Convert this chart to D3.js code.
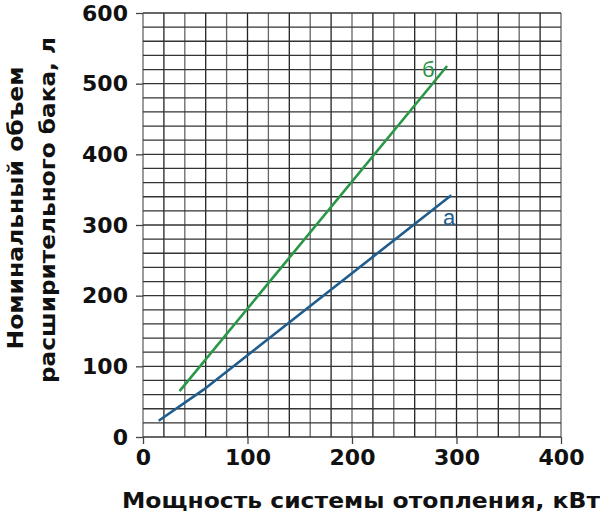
<!DOCTYPE html>
<html><head><meta charset="utf-8">
<script src="https://cdn.jsdelivr.net/npm/d3@7"></script>
<style>body{margin:0;background:#fff}svg{display:block}text{font-family:"DejaVu Sans",sans-serif;font-weight:bold}</style>
</head><body>
<svg id="c" width="600" height="517"></svg>
<script>
const xTicks = [0, 100, 200, 300, 400];
const yTicks = [0, 100, 200, 300, 400, 500, 600];
const seriesA_x = [15, 58, 295];
const seriesA_y = [23, 67, 342];
const seriesB_x = [35, 291];
const seriesB_y = [65, 525];
const labelA = "а", labelB = "б";
const xTitle = "Мощность системы отопления, кВт";
const yTitle1 = "Номинальный объем";
const yTitle2 = "расширительного бака, л";

const svg = d3.select("#c");
const L = 143, R = 561, T = 13, B = 437;
const x = d3.scaleLinear().domain([0, 400]).range([L, R]);
const y = d3.scaleLinear().domain([0, 600]).range([B, T]);
const FF = '"DejaVu Sans",sans-serif';

const g = svg.append("g");
// grid
const minor = d3.range(0, 401, 20);
g.selectAll(".vg").data(minor).enter().append("line")
  .attr("x1", d => x(d)).attr("x2", d => x(d)).attr("y1", T).attr("y2", B)
  .attr("stroke", (d, i) => (i % 2 ? "#222" : "#666")).attr("stroke-width", 1.3);
const minorY = d3.range(0, 601, 20);
g.selectAll(".hg").data(minorY).enter().append("line")
  .attr("x1", L).attr("x2", R).attr("y1", d => y(d)).attr("y2", d => y(d))
  .attr("stroke", "#333").attr("stroke-width", 1.3);

// axes (ticks)
const xAxis = d3.axisBottom(x).tickValues(xTicks).tickSize(7).tickPadding(5);
const xa = svg.append("g").attr("transform", `translate(0,${B})`).call(xAxis);
xa.select(".domain").remove();
xa.selectAll("line").attr("stroke", "#444").attr("stroke-width", 1.3);
xa.selectAll("text").attr("font-size", 22).attr("fill", "#111")
  .style("font-family", FF).style("font-weight", "bold");

const yAxis = d3.axisLeft(y).tickValues(yTicks).tickSize(7).tickPadding(8);
const ya = svg.append("g").attr("transform", `translate(${L},0)`).call(yAxis);
ya.select(".domain").remove();
ya.selectAll("line").attr("stroke", "#444").attr("stroke-width", 1.3);
ya.selectAll("text").attr("font-size", 22).attr("fill", "#111")
  .style("font-family", FF).style("font-weight", "bold");

// lines
const line = d3.line().x(d => x(d[0])).y(d => y(d[1]));
svg.append("path").datum(seriesB_x.map((v, i) => [v, seriesB_y[i]]))
  .attr("d", line).attr("fill", "none").attr("stroke", "#2a9747").attr("stroke-width", 2.6);
svg.append("path").datum(seriesA_x.map((v, i) => [v, seriesA_y[i]]))
  .attr("d", line).attr("fill", "none").attr("stroke", "#1f5d8e").attr("stroke-width", 2.6);

svg.append("text").attr("x", x(273)).attr("y", y(510)).attr("text-anchor", "middle")
  .attr("font-size", 22).style("font-family", '"Liberation Sans",Arial,sans-serif').style("font-weight", "normal")
  .attr("fill", "#2a9747").text(labelB);
svg.append("text").attr("x", x(293)).attr("y", y(300)).attr("text-anchor", "middle")
  .attr("font-size", 22).style("font-family", '"Liberation Sans",Arial,sans-serif').style("font-weight", "normal")
  .attr("fill", "#1f5d8e").text(labelA);

// titles
svg.append("text").attr("x", 361).attr("y", 508).attr("text-anchor", "middle")
  .attr("font-size", 22).attr("fill", "#111")
  .attr("textLength", 478).attr("lengthAdjust", "spacingAndGlyphs").text(xTitle);
svg.append("text").attr("transform", "translate(23,208) rotate(-90)").attr("text-anchor", "middle")
  .attr("font-size", 22).attr("fill", "#111")
  .attr("textLength", 283).attr("lengthAdjust", "spacingAndGlyphs").text(yTitle1);
svg.append("text").attr("transform", "translate(55,210) rotate(-90)").attr("text-anchor", "middle")
  .attr("font-size", 22).attr("fill", "#111")
  .attr("textLength", 346).attr("lengthAdjust", "spacingAndGlyphs").text(yTitle2);
</script>
</body></html>
